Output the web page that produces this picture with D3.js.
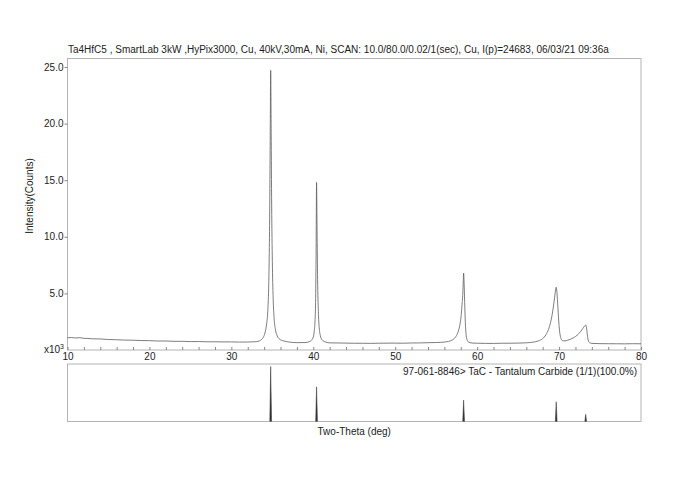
<!DOCTYPE html>
<html><head><meta charset="utf-8">
<script src="https://cdn.jsdelivr.net/npm/d3@7/dist/d3.min.js"></script>
<style>body{margin:0;background:#fff}svg{display:block}text{font-family:"Liberation Sans",Arial,sans-serif;fill:#222}</style>
</head><body>
<svg id="c" width="680" height="480"></svg>
<script>
// ---- data (2-theta in degrees, intensity in counts) ----
const twoTheta = [10.0,10.5,11.0,11.5,12.0,12.5,13.0,14.0,15.0,16.0,17.0,18.0,19.0,20.0,21.0,22.0,23.0,24.0,25.0,26.0,27.0,28.0,29.0,30.0,31.0,32.0,32.5,
 33.0,33.4,33.7,33.9,34.1,34.3,34.45,34.55,34.62,34.68,34.74,34.8,34.86,34.92,35.0,35.1,35.22,35.38,35.6,35.9,36.4,37.0,38.0,39.0,39.5,39.8,
 40.0,40.12,40.22,40.28,40.34,40.4,40.46,40.53,40.62,40.72,40.85,41.05,41.4,42.0,43.0,44.0,45.0,46.0,47.0,48.0,49.0,50.0,51.0,52.0,53.0,54.0,55.0,56.0,56.5,
 57.0,57.4,57.7,57.9,58.05,58.15,58.25,58.3,58.35,58.42,58.5,58.58,58.66,58.8,59.0,59.5,60.0,61.0,62.0,63.0,64.0,65.0,66.0,66.8,67.5,68.0,68.4,68.7,68.95,
 69.15,69.3,69.45,69.55,69.65,69.75,69.85,69.95,70.05,70.2,70.4,70.7,71.0,71.4,71.8,72.2,72.6,72.9,73.1,73.25,73.35,73.45,73.55,73.7,74.0,75.0,76.0,77.0,78.0,79.0,80.0];
const intensity = [1080,1100,1060,1090,1030,1020,990,975,925,905,875,865,835,825,795,795,765,765,745,745,725,725,715,715,700,705,715,
 730,800,940,1120,1500,2300,3500,5400,8200,12200,18500,24700,19200,12800,7900,4600,2800,1800,1250,950,800,710,650,660,730,880,
 1150,1700,2700,4200,8200,14800,10700,6200,3400,2000,1300,920,730,630,620,610,595,595,585,600,605,610,600,620,625,645,660,700,760,
 900,1180,1650,2250,3050,3950,5000,6000,6800,5650,3700,2100,1300,850,680,610,600,585,580,595,600,610,635,690,810,1000,1350,1800,2400,
 3100,3800,4600,5200,5550,5000,3850,2650,1750,1100,840,800,855,950,1100,1300,1600,1900,2100,2200,1950,1350,880,660,585,560,555,550,545,555,550];

const xTicks = [10,20,30,40,50,60,70,80];
const xMinorTicks = [12,14,16,18,22,24,26,28,32,34,36,38,42,44,46,48,52,54,56,58,62,64,66,68,72,74,76,78];
const yTicks = [5000,10000,15000,20000,25000];
const yTickLabels = ["5.0","10.0","15.0","20.0","25.0"];

// reference pattern: 97-061-8846 TaC
const refAngles = [34.8,40.4,58.35,69.65,73.25];
const refIntensity = [100,63,39,36,13];

const titleText = "Ta4HfC5 , SmartLab 3kW ,HyPix3000, Cu, 40kV,30mA, Ni, SCAN: 10.0/80.0/0.02/1(sec), Cu, I(p)=24683, 06/03/21 09:36a";
const refLabel = "97-061-8846> TaC - Tantalum Carbide (1/1)(100.0%)";

// ---- drawing ----
const svg = d3.select("#c");
const L = 67.5, R = 641, T = 58.5, B = 350;
const T2 = 364, B2 = 421.5;
const boxColor = "#b4b4b4";

const x = d3.scaleLinear().domain([10,80]).range([L,R]);
const y = d3.scaleLinear().domain([0,25750]).range([B,T]);
const yr = d3.scaleLinear().domain([0,100]).range([B2,T2+2.5]);

svg.append("rect").attr("width",680).attr("height",480).attr("fill","#fff");

// title
svg.append("text").attr("x",68).attr("y",53).attr("font-size",10).text(titleText);

// main box
svg.append("rect").attr("x",L).attr("y",T).attr("width",R-L).attr("height",B-T)
  .attr("fill","none").attr("stroke",boxColor).attr("stroke-width",1);

// y axis
const ya = svg.append("g").attr("transform",`translate(${L},0)`)
  .call(d3.axisLeft(y).tickValues(yTicks).tickFormat((d,i)=>yTickLabels[i]).tickSize(3).tickPadding(1));
ya.select(".domain").remove();
ya.selectAll("line").attr("stroke","#888");
ya.selectAll("text").attr("font-size",10).attr("fill","#222").attr("font-family","Liberation Sans, Arial, sans-serif");

// x axis labels
const xa = svg.append("g").attr("transform",`translate(0,${B})`)
  .call(d3.axisBottom(x).tickValues(xTicks).tickFormat(d3.format("d")).tickSize(0).tickPadding(3));
xa.select(".domain").remove();
xa.selectAll("text").attr("font-size",10).attr("fill","#222").attr("font-family","Liberation Sans, Arial, sans-serif");

// inward ticks
const xt = svg.append("g").attr("transform",`translate(0,${B})`)
  .call(d3.axisTop(x).tickValues(xTicks.concat(xMinorTicks)).tickFormat("").tickSize(3));
xt.select(".domain").remove();
xt.selectAll("line").attr("stroke","#888");

// x10^3
const ex = svg.append("text").attr("x",64).attr("y",353).attr("text-anchor","end").attr("font-size",10);
ex.append("tspan").text("x10");
ex.append("tspan").attr("font-size",7).attr("dy",-4).text("3");

// y label
svg.append("text").attr("transform","translate(33,196) rotate(-90)").attr("text-anchor","middle")
  .attr("font-size",10).text("Intensity(Counts)");

// pattern line
const pts = twoTheta.map((t,i)=>[t,intensity[i]]);
svg.append("path").datum(pts)
  .attr("d",d3.line().x(d=>x(d[0])).y(d=>y(d[1])).curve(d3.curveMonotoneX))
  .attr("fill","none").attr("stroke","#5c5c5c").attr("stroke-width",0.8);

// lower panel
svg.append("rect").attr("x",L).attr("y",T2).attr("width",R-L).attr("height",B2-T2)
  .attr("fill","none").attr("stroke",boxColor).attr("stroke-width",1);
svg.append("text").attr("x",R-4).attr("y",375).attr("text-anchor","end").attr("font-size",10).text(refLabel);

svg.append("g").selectAll("path").data(refAngles).join("path")
  .attr("d",(a,i)=>`M${x(a)-0.9},${yr(0)}L${x(a)},${yr(refIntensity[i])}L${x(a)+0.9},${yr(0)}`)
  .attr("fill","#333").attr("stroke","#333").attr("stroke-width",0.5);

svg.append("text").attr("x",(L+R)/2).attr("y",435).attr("text-anchor","middle").attr("font-size",10).text("Two-Theta (deg)");
</script>
</body></html>
